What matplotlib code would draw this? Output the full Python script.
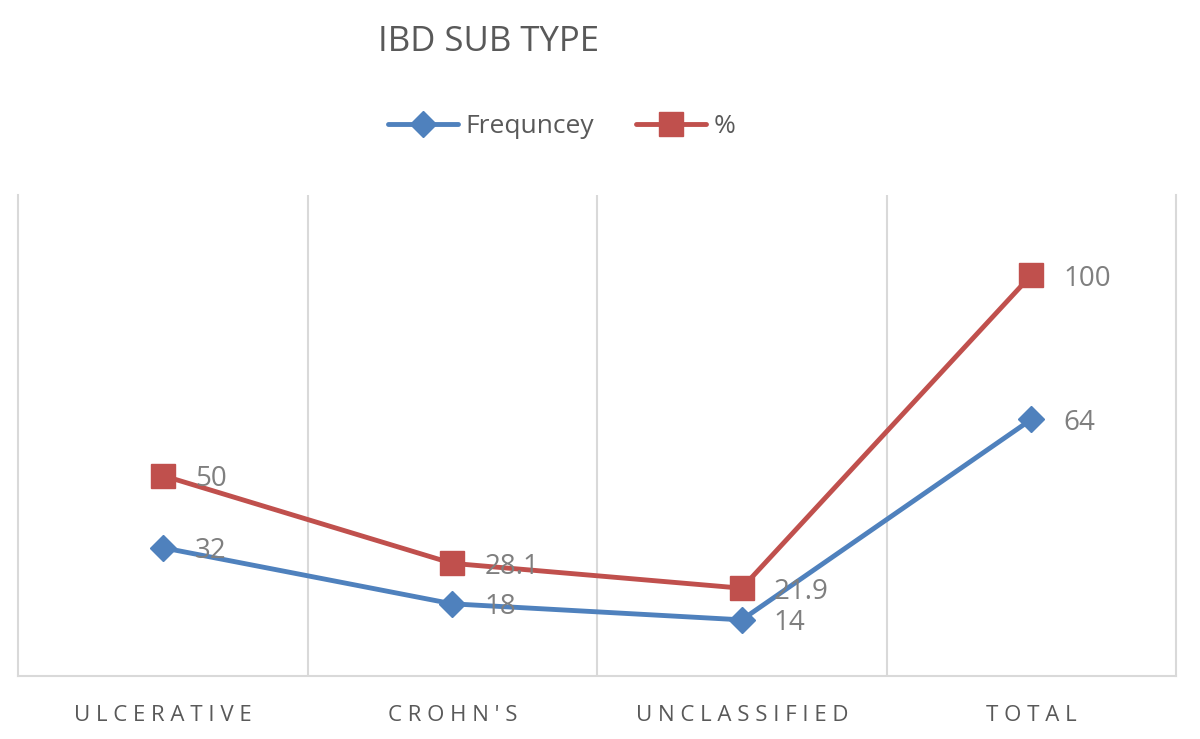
import matplotlib.pyplot as plt

# chart data
categories = ["ULCERATIVE\nCOLITIS", "CROHN'S\nDISEASE", "UNCLASSIFIED\nIBD", "TOTAL\nTOTAL"]
frequency = [32, 18, 14, 64]
percent = [50, 28.1, 21.9, 100]
freq_labels = ["32", "18", "14", "64"]
pct_labels = ["50", "28.1", "21.9", "100"]

blue = "#4f81bd"
red = "#c0504d"
grid_col = "#d9d9d9"
text_col = "#595959"
label_col = "#7f7f7f"

plt.rcParams['font.family'] = ['Open Sans', 'DejaVu Sans']

fig = plt.figure(figsize=(12, 7.39), dpi=100)
ax = fig.add_axes([0.015, 0.0853, 0.965, 0.6508])

x = list(range(len(categories)))
ax.plot(x, frequency, color=blue, linewidth=3.5, marker='D', markersize=13,
        label='Frequncey', solid_capstyle='round')
ax.plot(x, percent, color=red, linewidth=3.5, marker='s', markersize=17,
        label='%', solid_capstyle='round')

for xi, v, s in zip(x, frequency, freq_labels):
    ax.annotate(s, (xi, v), xytext=(23, -2.5), textcoords='offset points',
                va='center', ha='left', fontsize=20, color=label_col)
for xi, v, s in zip(x, percent, pct_labels):
    ax.annotate(s, (xi, v), xytext=(23, -2.5), textcoords='offset points',
                va='center', ha='left', fontsize=20, color=label_col)

ax.set_xlim(-0.5, len(categories) - 0.5)
ax.set_ylim(0, 120)
ax.set_yticks([])

# vertical gridlines between categories
for b in [i + 0.5 for i in range(len(categories) - 1)]:
    ax.axvline(b, color=grid_col, linewidth=1.5, zorder=0)

for side in ['left', 'right', 'bottom']:
    ax.spines[side].set_color(grid_col)
    ax.spines[side].set_linewidth(1.5)
ax.spines['top'].set_visible(False)

# category names run past the bottom edge, like the source chart
spaced = ["\n".join(" ".join(w) for w in c.split("\n")) for c in categories]
ax.set_xticks(x)
ax.set_xticklabels(spaced, fontsize=16, color=text_col, linespacing=1.88)
ax.tick_params(axis='x', length=0, pad=21)

fig.text(0.315, 0.943, "IBD SUB TYPE", fontsize=25, color=text_col,
         ha='left', va='center')

leg = fig.legend(loc='center', bbox_to_anchor=(0.468, 0.829), ncol=2, frameon=False,
                 fontsize=19, handlelength=2.65, columnspacing=1.6, handletextpad=0.27,
                 labelcolor=text_col)

fig.savefig("out.png", dpi=100)
